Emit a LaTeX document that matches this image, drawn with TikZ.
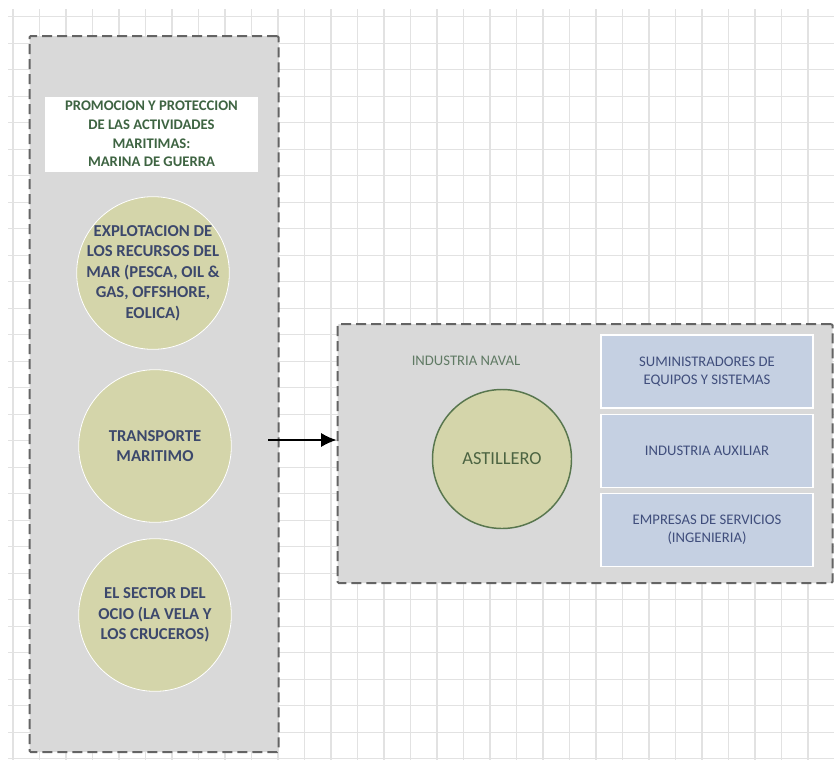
\documentclass[tikz,border=0pt]{standalone}
\usepackage{fontspec}
\setmainfont{Carlito}
\usetikzlibrary{arrows.meta,fit}
\definecolor{gridc}{RGB}{226,226,226}
\definecolor{panel}{RGB}{217,217,217}
\definecolor{dashc}{RGB}{100,100,100}
\definecolor{olive}{RGB}{212,213,170}
\definecolor{titlec}{RGB}{62,100,66}
\definecolor{circtxt}{RGB}{60,72,108}
\definecolor{navalc}{RGB}{96,122,100}
\definecolor{astc}{RGB}{76,100,66}
\definecolor{astborder}{RGB}{88,118,78}
\definecolor{bluebox}{RGB}{197,208,226}
\definecolor{bluetxt}{RGB}{64,78,124}
\tikzset{
  dashbox/.style={draw=dashc, fill=panel, line width=1.5pt, dash pattern=on 7.5pt off 3.75pt, inner sep=0pt, rounded corners=1pt},
  titlebox/.style={fill=white, draw=none, minimum width=159.75pt, minimum height=56.25pt, inner sep=0pt, align=center, text=titlec, font=\fontsize{11}{13.9}\selectfont\bfseries},
  olivecirc/.style={circle, fill=olive, draw=white, line width=0.6pt, minimum size=114.5pt, inner sep=0pt},
  circtext/.style={align=center, inner sep=0pt, text=circtxt, font=\fontsize{12.5}{15.4}\selectfont\bfseries},
  astcirc/.style={circle, fill=olive, draw=astborder, line width=1.1pt, minimum size=104.25pt, inner sep=0pt, align=center, text=astc, font=\fontsize{13.8}{16}\selectfont},
  bluerect/.style={rectangle, fill=bluebox, draw=white, line width=1.1pt, minimum width=159pt, minimum height=54.75pt, inner sep=0pt, align=center, text=bluetxt, font=\fontsize{11}{13.5}\selectfont},
  navallabel/.style={text=navalc, font=\fontsize{11}{13}\selectfont, inner sep=0pt},
  arr/.style={draw=black, line width=1.1pt, -{Latex[length=11.5pt,width=10.5pt]}}
}
\begin{document}
\begin{tikzpicture}[x=0.75pt,y=-0.75pt]
\useasboundingbox (0,0) rectangle (834,760);
\fill[white] (0,0) rectangle (834,760);
% grid
\foreach \k in {0,...,30} {
  \draw[gridc, line width=0.8pt] ({13+26.5*\k},9) -- ({13+26.5*\k},760);
}
\foreach \k in {0,...,28} {
  \draw[gridc, line width=0.8pt] (8,{16.7+26.5*\k}) -- (834,{16.7+26.5*\k});
}
% left panel
\coordinate (l1) at (29.5,36);
\coordinate (l2) at (278.5,752);
\node[dashbox, fit=(l1)(l2)] (left) {};
\node[titlebox] (title) at (151.5,134) {PROMOCION Y PROTECCION\\DE LAS ACTIVIDADES\\MARITIMAS:\\MARINA DE GUERRA};
\node[olivecirc] (c1) at (153,273) {};
\node[circtext] (t1) at (c1) {EXPLOTACION DE\\LOS RECURSOS DEL\\MAR (PESCA, OIL \&\\GAS, OFFSHORE,\\EOLICA)};
\node[olivecirc] (c2) at (155,446) {};
\node[circtext] (t2) at (c2) {TRANSPORTE\\MARITIMO};
\node[olivecirc] (c3) at (155,615) {};
\node[circtext] (t3) at (c3) {EL SECTOR DEL\\OCIO (LA VELA Y\\LOS CRUCEROS)};
% right panel
\coordinate (r1) at (337.5,324);
\coordinate (r2) at (832.5,583);
\node[dashbox, fit=(r1)(r2)] (right) {};
\node[navallabel] (naval) at (466,361) {INDUSTRIA NAVAL};
\node[astcirc] (ast) at (502,459) {ASTILLERO};
\node[bluerect] (b1) at (707,371.7) {SUMINISTRADORES DE\\EQUIPOS Y SISTEMAS};
\node[bluerect] (b2) at (707,451.2) {INDUSTRIA AUXILIAR};
\node[bluerect] (b3) at (707,530) {EMPRESAS DE SERVICIOS\\(INGENIERIA)};
% arrow
\coordinate (a0) at (268,440);
\draw[arr] (a0) -- (a0 -| right.west);
\end{tikzpicture}
\end{document}
